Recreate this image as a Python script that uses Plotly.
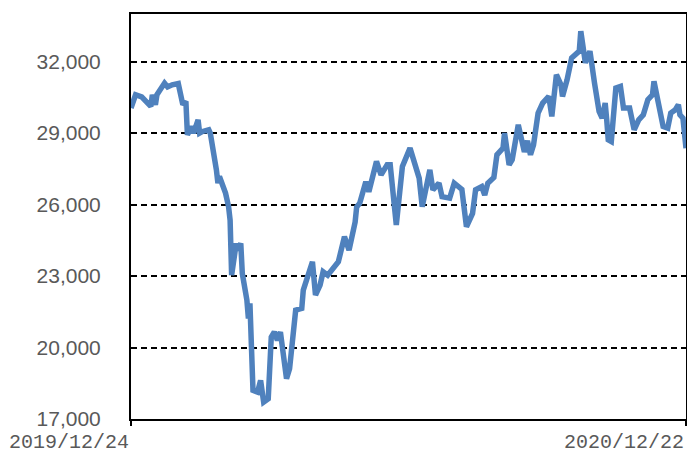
import plotly.graph_objects as go

# Daily closing level of the index, sampled at the turning points of the year
dates = [
    "2019-12-24", "2019-12-27", "2019-12-31", "2020-01-06", "2020-01-07", "2020-01-09",
    "2020-01-10", "2020-01-15", "2020-01-17", "2020-01-20", "2020-01-24", "2020-01-26",
    "2020-01-27", "2020-01-29", "2020-01-30", "2020-02-02", "2020-02-03", "2020-02-06",
    "2020-02-07", "2020-02-09", "2020-02-13", "2020-02-14", "2020-02-16", "2020-02-18",
    "2020-02-19", "2020-02-20", "2020-02-24", "2020-02-26", "2020-02-27", "2020-02-28",
    "2020-03-02", "2020-03-03", "2020-03-05", "2020-03-06", "2020-03-09", "2020-03-10",
    "2020-03-11", "2020-03-13", "2020-03-16", "2020-03-18", "2020-03-20", "2020-03-23",
    "2020-03-25", "2020-03-27", "2020-03-29", "2020-03-31", "2020-04-04", "2020-04-06",
    "2020-04-10", "2020-04-14", "2020-04-15", "2020-04-21", "2020-04-23", "2020-04-26",
    "2020-04-28", "2020-05-01", "2020-05-08", "2020-05-12", "2020-05-15", "2020-05-19",
    "2020-05-20", "2020-05-22", "2020-05-26", "2020-05-28", "2020-06-02", "2020-06-05",
    "2020-06-09", "2020-06-11", "2020-06-15", "2020-06-19", "2020-06-24", "2020-06-30",
    "2020-07-02", "2020-07-07", "2020-07-09", "2020-07-13", "2020-07-15", "2020-07-20",
    "2020-07-23", "2020-07-28", "2020-07-31", "2020-08-04", "2020-08-06", "2020-08-10",
    "2020-08-12", "2020-08-14", "2020-08-18", "2020-08-20", "2020-08-24", "2020-08-25",
    "2020-08-28", "2020-08-30", "2020-09-03", "2020-09-07", "2020-09-09", "2020-09-11",
    "2020-09-13", "2020-09-16", "2020-09-19", "2020-09-23", "2020-09-25", "2020-09-26",
    "2020-09-28", "2020-10-01", "2020-10-02", "2020-10-05", "2020-10-08", "2020-10-13",
    "2020-10-14", "2020-10-17", "2020-10-20", "2020-10-23", "2020-10-26", "2020-10-28",
    "2020-10-30", "2020-10-31", "2020-11-01", "2020-11-03", "2020-11-06", "2020-11-09",
    "2020-11-11", "2020-11-15", "2020-11-18", "2020-11-21", "2020-11-24", "2020-11-27",
    "2020-11-30", "2020-12-01", "2020-12-04", "2020-12-07", "2020-12-10", "2020-12-12",
    "2020-12-15", "2020-12-17", "2020-12-18", "2020-12-20", "2020-12-22",
]

closes = [
    30050, 30610, 30520, 30120, 30610, 30190,
    30610, 31100, 30940, 31030, 31080, 30540,
    30190, 30330, 28930, 29280, 29000, 29560,
    29000, 29070, 29140, 29000, 28300, 27460,
    26900, 27180, 26480, 25910, 25350, 23040,
    24370, 24090, 24370, 23110, 21990, 21220,
    21850, 18200, 18130, 18620, 17710, 17850,
    20440, 20650, 20300, 20650, 18690, 19110,
    21570, 21640, 22410, 23600, 22200, 22620,
    23180, 23040, 23600, 24650, 24090, 25270,
    25900, 26060, 26960, 26540, 27810, 27250,
    27670, 27670, 25140, 27600, 28370, 27110,
    25910, 27460, 26620, 26900, 26330, 26270,
    26900, 26640, 25070, 25630, 26620, 26750,
    26400, 26900, 27140, 28090, 28370, 29000,
    27670, 27880, 29350, 28210, 28680, 28090,
    28510, 29840, 30260, 30540, 29700, 30400,
    31450, 31030, 30540, 31240, 32160, 32440,
    33280, 31950, 32440, 31100, 29910, 29630,
    30260, 29560, 28720, 28650, 30890, 30960,
    30050, 30050, 29140, 29560, 29770, 30400,
    30610, 31170, 30330, 29280, 29210, 29840,
    29980, 30190, 29770, 29630, 28370,
]

x_ticks = ["2019-12-24", "2020-12-22"]
x_tick_labels = ["2019/12/24", "2020/12/22"]
y_ticks = [17000, 20000, 23000, 26000, 29000, 32000]
y_range = [17000, 34000]

LABEL_GREY = "#595959"

fig = go.Figure(
    go.Scatter(
        x=dates,
        y=closes,
        mode="lines",
        line=dict(color="#4F81BD", width=5.5),
        hoverinfo="x+y",
    )
)

fig.update_layout(
    width=687,
    height=455,
    margin=dict(l=131, r=1, t=14, b=36),
    paper_bgcolor="white",
    plot_bgcolor="white",
    showlegend=False,
)

fig.update_xaxes(
    type="date",
    range=[x_ticks[0], x_ticks[-1]],
    tickmode="array",
    tickvals=x_ticks,
    ticktext=x_tick_labels,
    ticks="outside",
    ticklen=5,
    tickwidth=2,
    tickcolor="black",
    ticklabelposition="outside left",
    ticklabelstandoff=3,
    tickfont=dict(family="Liberation Mono", size=20, color=LABEL_GREY),
    automargin=False,
    showgrid=False,
    zeroline=False,
    showline=True,
    linecolor="black",
    linewidth=2,
    mirror=True,
)

fig.update_yaxes(
    range=y_range,
    tickmode="array",
    tickvals=y_ticks,
    tickformat=",",
    ticks="",
    ticklabelstandoff=24,
    tickfont=dict(family="Liberation Sans", size=21, color=LABEL_GREY),
    automargin=False,
    showgrid=True,
    gridcolor="black",
    gridwidth=2,
    griddash="6px,4px",
    zeroline=False,
    showline=True,
    linecolor="black",
    linewidth=2,
    mirror=True,
)

fig.write_html("out.html")
